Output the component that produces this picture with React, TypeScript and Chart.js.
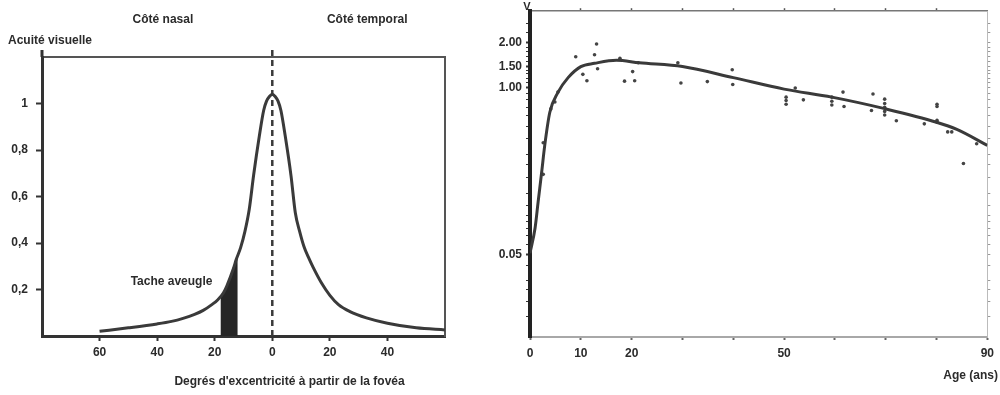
import React, { useEffect, useRef } from 'react';
import { Chart, registerables, LinearScale } from 'chart.js';

// ---------- Left chart: visual acuity vs eccentricity ----------
const ECC_DEG = [-60, -50, -40, -35, -31, -27, -24, -21, -19, -17, -15.8, -13.5, -12.5, -11, -9.5, -8, -6.5, -4.5, -3, -2, -1, 0, 1, 2, 3, 4.5, 6.5, 8, 9.5, 11, 12.5, 14.2, 17, 20, 23, 27, 32.7, 40, 50, 60];
const ACUITY = [0.02, 0.035, 0.052, 0.063, 0.076, 0.093, 0.11, 0.135, 0.155, 0.185, 0.215, 0.29, 0.33, 0.38, 0.45, 0.545, 0.69, 0.86, 0.97, 1.01, 1.03, 1.04, 1.03, 1.01, 0.97, 0.86, 0.69, 0.53, 0.45, 0.385, 0.34, 0.295, 0.23, 0.175, 0.135, 0.105, 0.078, 0.055, 0.035, 0.026];
const BLIND_DEG = [-18, -17, -15.8, -14.5, -13.5, -12];
const BLIND_ACUITY = [0.17, 0.185, 0.215, 0.255, 0.29, 0.347];
const FOVEA_DEG = [0, 0];
const FOVEA_Y = [0, 1.245];
const LEFT_X_TICKS = [-60, -40, -20, 0, 20, 40];
const LEFT_Y_TICKS = [0.2, 0.4, 0.6, 0.8, 1];

// ---------- Right chart: acuity vs age ----------
const AGE_CURVE = [0, 1, 1.6, 2.3, 2.9, 3.9, 5.5, 7.5, 10, 12.7, 17, 21.5, 30, 40, 50, 59.4, 70, 80, 84, 90];
const V_CURVE = [0.051, 0.08, 0.128, 0.219, 0.353, 0.64, 0.915, 1.21, 1.5, 1.56, 1.62, 1.57, 1.5, 1.21, 0.97, 0.84, 0.68, 0.535, 0.47, 0.353];
const AGE_PTS = [2.6, 2.6, 4.1, 4.9, 5.5, 9.0, 10.4, 11.2, 12.7, 13.1, 13.3, 17.7, 18.6, 20.2, 20.6, 21.3, 29.1, 29.7, 34.9, 39.8, 39.9, 50.4, 50.4, 50.4, 52.2, 53.8, 59.4, 59.4, 59.4, 61.6, 61.8, 67.2, 67.5, 69.8, 69.8, 69.8, 69.8, 69.8, 72.1, 77.6, 80.1, 80.1, 80.1, 80.1, 82.2, 83, 85.3, 87.9];
const V_PTS = [0.37, 0.21, 0.68, 0.77, 0.92, 1.69, 1.29, 1.14, 1.73, 1.97, 1.44, 1.66, 1.13, 1.36, 1.14, 1.57, 1.57, 1.09, 1.12, 1.41, 1.06, 0.84, 0.79, 0.74, 0.99, 0.8, 0.84, 0.78, 0.73, 0.92, 0.71, 0.66, 0.89, 0.81, 0.75, 0.7, 0.65, 0.61, 0.55, 0.52, 0.74, 0.71, 0.555, 0.535, 0.45, 0.45, 0.255, 0.364];
const AGE_TICK_LABELS = [0, 10, 20, 50, 90];
const AGE_TOP_TICKS = [10, 20, 30, 40, 50, 60, 70, 80];
const V_TICK_LABELS = [0.05, 1, 1.5, 2];
const V_ALL_TICKS = [0.015, 0.02, 0.025, 0.03, 0.04, 0.05, 0.06, 0.07, 0.08, 0.09, 0.1, 0.12, 0.15, 0.2, 0.25, 0.3, 0.4, 0.5, 0.6, 0.7, 0.8, 0.9, 1, 1.1, 1.2, 1.3, 1.4, 1.5, 1.6, 1.7, 1.8, 1.9, 2, 2.2, 2.4];

// axis warp definition (value -> fraction of axis height), log-interpolated
const WARP: [number, number][] = [[0.01, 0], [0.05, 0.254], [1, 0.766], [1.5, 0.83], [2, 0.903], [2.7, 1]];

function toFrac(v: number): number {
  if (v <= WARP[0][0]) return 0;
  for (let i = 1; i < WARP.length; i++) {
    const [a, fa] = WARP[i - 1];
    const [b, fb] = WARP[i];
    if (v <= b || i === WARP.length - 1) {
      const t = (Math.log(v) - Math.log(a)) / (Math.log(b) - Math.log(a));
      return fa + t * (fb - fa);
    }
  }
  return 1;
}
function fromFrac(f: number): number {
  for (let i = 1; i < WARP.length; i++) {
    const [a, fa] = WARP[i - 1];
    const [b, fb] = WARP[i];
    if (f <= fb || i === WARP.length - 1) {
      const t = (f - fa) / (fb - fa);
      return Math.exp(Math.log(a) + t * (Math.log(b) - Math.log(a)));
    }
  }
  return WARP[WARP.length - 1][0];
}

class WarpScale extends LinearScale {
  static id = 'warp';
  static defaults = {};
  buildTicks() {
    return V_ALL_TICKS.map((v) => ({ value: v }));
  }
  getPixelForValue(value: number) {
    return this.getPixelForDecimal(toFrac(value));
  }
  getValueForPixel(pixel: number) {
    return fromFrac(this.getDecimalForPixel(pixel));
  }
}

Chart.register(...registerables, WarpScale);

const FONT = '"Liberation Sans", Arial, Helvetica, sans-serif';
const TEXT = '#2b2b2b';
const INK = '#333333';

const zip = (xs: number[], ys: number[]) => xs.map((x, i) => ({ x, y: ys[i] }));

const leftPlugin = {
  id: 'leftText',
  afterDraw(chart: any) {
    const { ctx, chartArea, scales } = chart;
    const x = scales.x;
    const y = scales.y;
    ctx.save();
    ctx.fillStyle = TEXT;
    ctx.font = `bold 12px ${FONT}`;
    ctx.textBaseline = 'middle';
    ctx.textAlign = 'center';
    ctx.fillText('Côté nasal', x.getPixelForValue(-38), 20);
    ctx.fillText('Côté temporal', x.getPixelForValue(33), 20);
    ctx.fillText('Tache aveugle', x.getPixelForValue(-35), y.getPixelForValue(0.233));
    ctx.fillText("Degrés d'excentricité à partir de la fovéa", x.getPixelForValue(6), 382);
    ctx.textAlign = 'left';
    ctx.fillText('Acuité visuelle', 8, 41);
    ctx.strokeStyle = INK;
    ctx.lineWidth = 3;
    ctx.beginPath();
    ctx.moveTo(chartArea.left, chartArea.top);
    ctx.lineTo(chartArea.left, chartArea.top - 7);
    ctx.stroke();
    ctx.restore();
  },
};

const rightPlugin = {
  id: 'rightText',
  afterDraw(chart: any) {
    const { ctx, chartArea } = chart;
    ctx.save();
    ctx.fillStyle = TEXT;
    ctx.font = `bold 11px ${FONT}`;
    ctx.textBaseline = 'middle';
    ctx.textAlign = 'center';
    ctx.fillText('V', chartArea.left - 3, 7);
    ctx.font = `bold 12px ${FONT}`;
    ctx.textAlign = 'right';
    ctx.fillText('Age (ans)', chart.width - 2, 376);
    ctx.restore();
  },
};

function LeftChart() {
  const ref = useRef<HTMLCanvasElement>(null);
  useEffect(() => {
    const chart = new Chart(ref.current as HTMLCanvasElement, {
      type: 'line',
      data: {
        datasets: [
          {
            data: zip(ECC_DEG, ACUITY),
            borderColor: '#3a3a3a',
            borderWidth: 3,
            pointRadius: 0,
            cubicInterpolationMode: 'monotone',
            fill: false,
            order: 0,
          },
          {
            data: zip(BLIND_DEG, BLIND_ACUITY),
            borderWidth: 0,
            borderColor: 'rgba(0,0,0,0)',
            backgroundColor: '#262626',
            pointRadius: 0,
            fill: 'origin',
            order: 1,
          },
          {
            data: zip(FOVEA_DEG, FOVEA_Y),
            borderColor: '#3a3a3a',
            borderWidth: 2.5,
            borderDash: [6, 4],
            pointRadius: 0,
            fill: false,
            clip: false,
            order: 2,
          },
        ],
      } as any,
      options: {
        responsive: false,
        animation: false,
        events: [],
        layout: { padding: { top: 57, right: 25, left: 0, bottom: 0 } },
        plugins: { legend: { display: false }, tooltip: { enabled: false } },
        scales: {
          x: {
            type: 'linear',
            min: -80,
            max: 60,
            afterFit: (s: any) => { s.height = 59; },
            afterBuildTicks: (s: any) => { s.ticks = LEFT_X_TICKS.map((v) => ({ value: v })); },
            ticks: {
              callback: (v: any) => String(Math.abs(Number(v))),
              color: TEXT,
              font: { family: FONT, size: 12, weight: 'bold' },
              padding: 4,
              maxRotation: 0,
            },
            grid: { drawOnChartArea: false, tickLength: 5, tickWidth: 2, tickColor: INK },
            border: { width: 3, color: INK },
          },
          x2: {
            type: 'linear',
            position: 'top',
            min: -80,
            max: 60,
            afterFit: (s: any) => { s.height = 0; },
            ticks: { display: false },
            grid: { display: false, drawTicks: false },
            border: { width: 2, color: '#555' },
          },
          y: {
            type: 'linear',
            min: 0,
            max: 1.2,
            afterFit: (s: any) => { s.width = 42; },
            afterBuildTicks: (s: any) => { s.ticks = LEFT_Y_TICKS.map((v) => ({ value: v })); },
            ticks: {
              callback: (v: any) => String(Number(v)).replace('.', ','),
              color: TEXT,
              font: { family: FONT, size: 12, weight: 'bold' },
              padding: 8,
            },
            grid: { drawOnChartArea: false, tickLength: 6, tickWidth: 2, tickColor: INK },
            border: { width: 3, color: INK },
          },
          y2: {
            type: 'linear',
            position: 'right',
            min: 0,
            max: 1.2,
            afterFit: (s: any) => { s.width = 0; },
            ticks: { display: false },
            grid: { display: false, drawTicks: false },
            border: { width: 2, color: '#555' },
          },
        },
      } as any,
      plugins: [leftPlugin],
    });
    return () => chart.destroy();
  }, []);
  return <canvas ref={ref} width={470} height={395} style={{ display: 'block', width: 470, height: 395 }} />;
}

function RightChart() {
  const ref = useRef<HTMLCanvasElement>(null);
  useEffect(() => {
    const chart = new Chart(ref.current as HTMLCanvasElement, {
      type: 'line',
      data: {
        datasets: [
          {
            data: zip(AGE_CURVE, V_CURVE),
            borderColor: '#3a3a3a',
            borderWidth: 3,
            pointRadius: 0,
            cubicInterpolationMode: 'monotone',
            fill: false,
            order: 0,
          },
          {
            data: zip(AGE_PTS, V_PTS),
            showLine: false,
            pointRadius: 1.8,
            pointBackgroundColor: '#444',
            pointBorderWidth: 0,
            order: 1,
          },
        ],
      } as any,
      options: {
        responsive: false,
        animation: false,
        events: [],
        layout: { padding: { top: 0, right: 10, left: 0, bottom: 0 } },
        plugins: { legend: { display: false }, tooltip: { enabled: false } },
        scales: {
          x: {
            type: 'linear',
            min: 0,
            max: 90,
            afterFit: (s: any) => { s.height = 58; },
            afterBuildTicks: (s: any) => {
              s.ticks = [0, 10, 20, 30, 40, 50, 60, 70, 80, 90].map((v) => ({ value: v }));
            },
            ticks: {
              callback: (v: any) => (AGE_TICK_LABELS.includes(Number(v)) ? String(v) : ''),
              color: TEXT,
              font: { family: FONT, size: 12, weight: 'bold' },
              padding: 6,
              maxRotation: 0,
              autoSkip: false,
            },
            grid: { drawOnChartArea: false, tickLength: 3, tickWidth: 2, tickColor: '#666' },
            border: { width: 2, color: '#a8a8a8', dash: [7, 3] },
          },
          x2: {
            type: 'linear',
            position: 'top',
            min: 0,
            max: 90,
            afterFit: (s: any) => { s.height = 8; },
            afterBuildTicks: (s: any) => { s.ticks = AGE_TOP_TICKS.map((v) => ({ value: v })); },
            ticks: { display: false },
            grid: { drawOnChartArea: false, tickLength: 3, tickWidth: 1.5, tickColor: '#555' },
            border: { width: 1.5, color: '#777', dash: [8, 2] },
          },
          y: {
            type: 'warp',
            min: 0.01,
            max: 2.7,
            afterFit: (s: any) => { s.width = 50; },
            ticks: {
              callback: (v: any) => (V_TICK_LABELS.includes(Number(v)) ? Number(v).toFixed(2) : ''),
              color: TEXT,
              font: { family: FONT, size: 12, weight: 'bold' },
              padding: 4,
              autoSkip: false,
            },
            grid: {
              drawOnChartArea: false,
              tickLength: 4,
              tickWidth: (c: any) => (c.tick && V_TICK_LABELS.includes(c.tick.value) ? 2 : 1.2),
              tickColor: INK,
            },
            border: { width: 4, color: '#222' },
          },
          y2: {
            type: 'warp',
            position: 'right',
            min: 0.01,
            max: 2.7,
            afterFit: (s: any) => { s.width = 0; },
            ticks: { display: false },
            grid: { drawOnChartArea: false, tickLength: 3, tickWidth: 1, tickColor: '#999' },
            border: { width: 1, color: '#bbb', dash: [2, 2] },
          },
        },
      } as any,
      plugins: [rightPlugin],
    });
    return () => chart.destroy();
  }, []);
  return <canvas ref={ref} width={520} height={395} style={{ display: 'block', width: 520, height: 395 }} />;
}

export default function App() {
  return (
    <div style={{ position: 'absolute', left: 0, top: 0, width: 1000, height: 395, background: '#fff' }}>
      <div style={{ position: 'absolute', left: 0, top: 0 }}>
        <LeftChart />
      </div>
      <div style={{ position: 'absolute', left: 480, top: 0 }}>
        <RightChart />
      </div>
    </div>
  );
}
